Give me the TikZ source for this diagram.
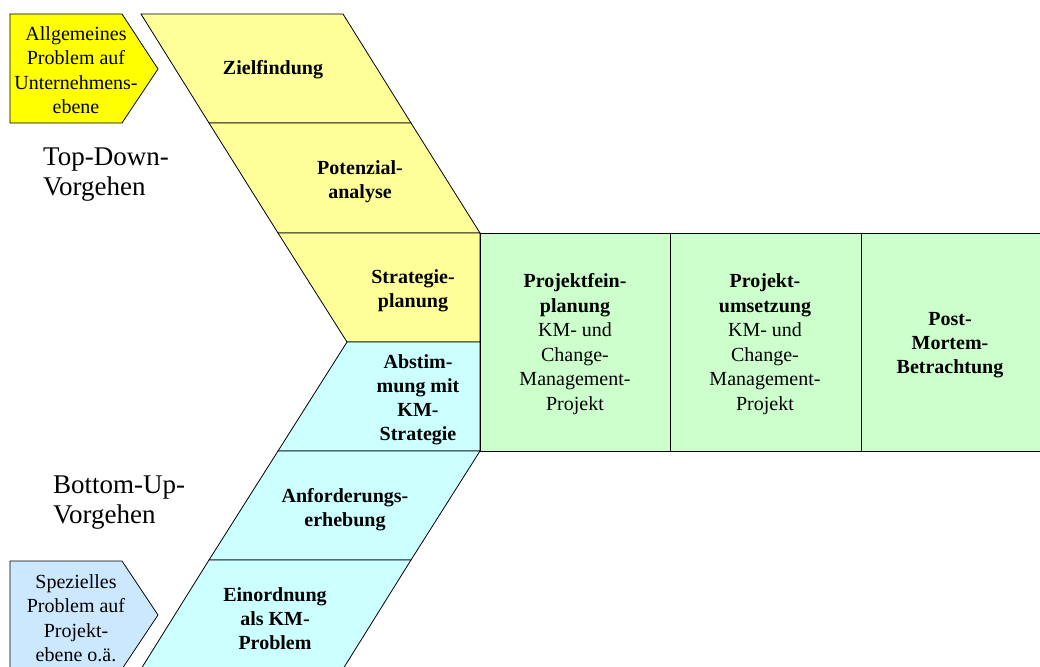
\documentclass[tikz,border=0pt]{standalone}
\usepackage{fontspec}
\setmainfont{Liberation Serif}
\definecolor{gelb}{HTML}{FFFF00}
\definecolor{hellgelb}{HTML}{FFFF99}
\definecolor{tuerkis}{HTML}{CCFFFF}
\definecolor{hellgruen}{HTML}{CCFFCC}
\definecolor{hellblau}{HTML}{CCE8FF}
\begin{document}
\begin{tikzpicture}[x=1pt,y=-1pt,
    feld/.style={draw=black,line width=0.8pt},
    schritt/.style={font=\fontsize{20}{24}\selectfont\bfseries,align=center},
    projekt/.style={font=\fontsize{20}{24.5}\selectfont,align=center},
    ausloeser/.style={font=\fontsize{20}{24.5}\selectfont,align=center},
    richtung/.style={font=\fontsize{27}{30}\selectfont,align=left,anchor=west,inner sep=0pt}]
    \path[use as bounding box,clip] (0,0) rectangle (1040,666);
    % Ausloeser links
    \draw[feld,fill=gelb] (10,14) -- (122,14) -- (158,69) -- (122,123) -- (10,123) -- cycle;
    \draw[feld,fill=hellblau] (10,561) -- (122,561) -- (158,615) -- (122,669) -- (10,669) -- cycle;
    % Top-Down
    \draw[feld,fill=hellgelb] (141,14) -- (343,14) -- (411,123) -- (209,123) -- cycle;
    \draw[feld,fill=hellgelb] (209,123) -- (411,123) -- (480,233) -- (278,233) -- cycle;
    \draw[feld,fill=hellgelb] (278,233) -- (480,233) -- (480,342) -- (347,342) -- cycle;
    % Bottom-Up
    \draw[feld,fill=tuerkis] (347,342) -- (480,342) -- (480,451) -- (278,451) -- cycle;
    \draw[feld,fill=tuerkis] (278,451) -- (480,451) -- (411,560) -- (209,560) -- cycle;
    \draw[feld,fill=tuerkis] (209,560) -- (411,560) -- (343,669) -- (141,669) -- cycle;
    % Projektphasen
    \draw[feld,fill=hellgruen] (480,233) rectangle (1050,451);
    \foreach \x in {670,861}
      \draw[feld] (\x,233) -- (\x,451);

    \node[ausloeser] (allgemein) at (76,70) {Allgemeines\\Problem auf\\Unternehmens-\\ebene};
    \node[ausloeser] (speziell) at (76,618) {Spezielles\\Problem auf\\Projekt-\\ebene o.ä.};
    \node[richtung] (topdown) at (43,175) {Top-Down-\\Vorgehen};
    \node[richtung] (bottomup) at (53,503) {Bottom-Up-\\Vorgehen};

    \node[schritt] (ziel) at (273,70) {Zielfindung};
    \node[schritt] (potenzial) at (360,182) {Potenzial-\\analyse};
    \node[schritt] (strategie) at (413,291) {Strategie-\\planung};
    \node[schritt] (abstimmung) at (418,400) {Abstim-\\mung mit\\KM-\\Strategie};
    \node[schritt] (anforderung) at (345,510) {Anforderungs-\\erhebung};
    \node[schritt] (einordnung) at (275,619) {Einordnung\\als KM-\\Problem};

    \node[projekt] (feinplanung) at (575,344) {\textbf{Projektfein-}\\\textbf{planung}\\KM- und\\Change-\\Management-\\Projekt};
    \node[projekt] (umsetzung) at (765,344) {\textbf{Projekt-}\\\textbf{umsetzung}\\KM- und\\Change-\\Management-\\Projekt};
    \node[schritt] (postmortem) at (950,345) {Post-\\Mortem-\\Betrachtung};
\end{tikzpicture}
\end{document}
